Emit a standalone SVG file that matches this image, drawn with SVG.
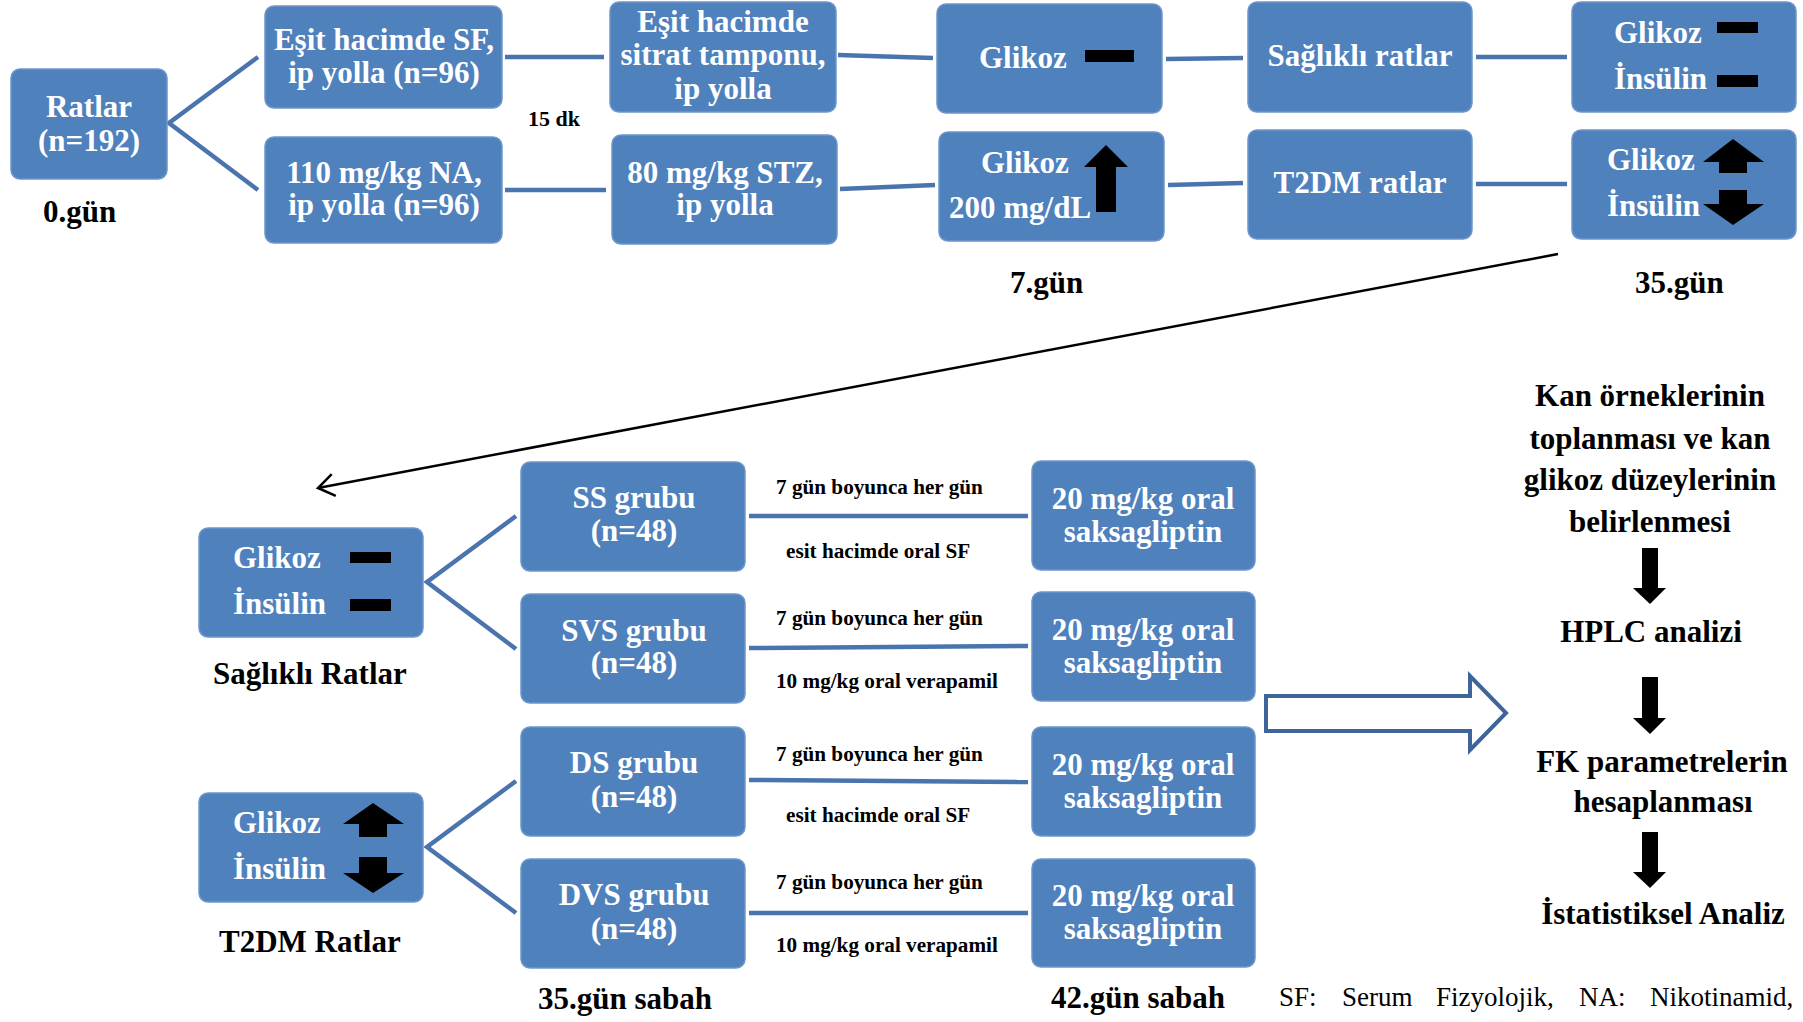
<svg xmlns="http://www.w3.org/2000/svg" width="1803" height="1022" viewBox="0 0 1803 1022">
<style>
.box{fill:#4f81bd;stroke:#6d96cc;stroke-width:1.5}
.bt{font-family:"Liberation Serif","Times New Roman",serif;font-weight:bold;font-size:31px;fill:#ffffff;text-anchor:middle}
.bts{font-family:"Liberation Serif","Times New Roman",serif;font-weight:bold;font-size:31px;fill:#ffffff}
.lab{font-family:"Liberation Serif","Times New Roman",serif;font-weight:bold;font-size:31px;fill:#000000}
.sm{font-family:"Liberation Serif","Times New Roman",serif;font-weight:bold;font-size:21.2px;fill:#000000}
.note{font-family:"Liberation Serif","Times New Roman",serif;font-size:27px;fill:#000000}
.ln{stroke:#4a74ad;stroke-width:4.5;fill:none}
.blk{fill:#000000}
</style>
<defs>
<marker id="openarrow" viewBox="-20 -14 24 28" markerWidth="24" markerHeight="28" refX="0" refY="0" orient="auto" markerUnits="userSpaceOnUse">
<path d="M -16 -11 L 0 0 L -16 11" fill="none" stroke="#000000" stroke-width="2.5"/>
</marker>
</defs>

<g id="connectors">
<polyline class="ln" points="258,57 169,123 258,190"/>
<line class="ln" x1="505" y1="57" x2="604" y2="57"/>
<line class="ln" x1="505" y1="190" x2="606" y2="190"/>
<line class="ln" x1="838" y1="55" x2="933" y2="58"/>
<line class="ln" x1="840" y1="189" x2="935" y2="185"/>
<line class="ln" x1="1166" y1="59" x2="1243" y2="58"/>
<line class="ln" x1="1168" y1="185" x2="1243" y2="183"/>
<line class="ln" x1="1476" y1="57" x2="1567" y2="57"/>
<line class="ln" x1="1476" y1="184" x2="1567" y2="184"/>
<line x1="1558" y1="254" x2="318" y2="488" stroke="#000000" stroke-width="2.5" marker-end="url(#openarrow)"/>
<polyline class="ln" points="516,516 427,582 516,649"/>
<polyline class="ln" points="516,781 427,847 516,913"/>
<line class="ln" x1="749" y1="516" x2="1028" y2="516"/>
<line class="ln" x1="749" y1="648" x2="1028" y2="646"/>
<line class="ln" x1="749" y1="780" x2="1028" y2="782"/>
<line class="ln" x1="749" y1="913" x2="1028" y2="913"/>
<polygon points="1266,696 1470,696 1470,676 1506,713 1470,750 1470,731 1266,731" fill="#ffffff" stroke="#3f649a" stroke-width="4"/>
<polygon class="blk" points="1642,548 1658,548 1658,588 1666,588 1650,604 1633,588 1642,588"/>
<polygon class="blk" points="1642,677 1658,677 1658,718 1666,718 1650,734 1633,718 1642,718"/>
<polygon class="blk" points="1642,832 1658,832 1658,872 1666,872 1650,888 1633,872 1642,872"/>
</g>

<g id="n-ratlar">
<rect class="box" x="11" y="69" width="156" height="110" rx="9"/>
<text class="bt" x="89" y="117">Ratlar</text>
<text class="bt" x="89" y="151">(n=192)</text>
</g>
<text id="t-0gun" class="lab" x="43" y="222">0.gün</text>

<g id="n-sf">
<rect class="box" x="265" y="6" width="237" height="102" rx="9"/>
<text class="bt" x="384" y="50">Eşit hacimde SF,</text>
<text class="bt" x="384" y="83">ip yolla (n=96)</text>
</g>
<g id="n-na">
<rect class="box" x="265" y="137" width="237" height="106" rx="9"/>
<text class="bt" x="384" y="183">110 mg/kg NA,</text>
<text class="bt" x="384" y="215">ip yolla (n=96)</text>
</g>
<text id="t-15dk" class="sm" x="528" y="126" style="font-size:22px">15 dk</text>

<g id="n-sitrat">
<rect class="box" x="610" y="2" width="226" height="110" rx="9"/>
<text class="bt" x="723" y="32">Eşit hacimde</text>
<text class="bt" x="723" y="65">sitrat tamponu,</text>
<text class="bt" x="723" y="99">ip yolla</text>
</g>
<g id="n-stz">
<rect class="box" x="612" y="135" width="225" height="109" rx="9"/>
<text class="bt" x="725" y="183">80 mg/kg STZ,</text>
<text class="bt" x="725" y="215">ip yolla</text>
</g>

<g id="n-glikoz7a">
<rect class="box" x="937" y="4" width="225" height="109" rx="9"/>
<text class="bts" x="979" y="68">Glikoz</text>
<rect class="blk" x="1085" y="50" width="49" height="12"/>
</g>
<g id="n-glikoz7b">
<rect class="box" x="939" y="132" width="225" height="109" rx="9"/>
<text class="bts" x="981" y="173">Glikoz</text>
<text class="bts" x="949" y="218">200 mg/dL</text>
<polygon class="blk" points="1106,145 1128,167 1116,167 1116,212 1096,212 1096,167 1084,167"/>
</g>
<text id="t-7gun" class="lab" x="1010" y="293">7.gün</text>

<g id="n-saglikli">
<rect class="box" x="1248" y="2" width="224" height="110" rx="9"/>
<text class="bt" x="1360" y="66">Sağlıklı ratlar</text>
</g>
<g id="n-t2dm">
<rect class="box" x="1248" y="130" width="224" height="109" rx="9"/>
<text class="bt" x="1360" y="193">T2DM ratlar</text>
</g>

<g id="n-35a">
<rect class="box" x="1572" y="2" width="224" height="110" rx="9"/>
<text class="bts" x="1614" y="43">Glikoz</text>
<rect class="blk" x="1717" y="22" width="41" height="11"/>
<text class="bts" x="1614" y="89">İnsülin</text>
<rect class="blk" x="1717" y="75" width="41" height="12"/>
</g>
<g id="n-35b">
<rect class="box" x="1572" y="130" width="224" height="109" rx="9"/>
<text class="bts" x="1607" y="170">Glikoz</text>
<polygon class="blk" points="1733,139 1764,162 1747,162 1747,173 1719,173 1719,162 1703,162"/>
<text class="bts" x="1607" y="216">İnsülin</text>
<polygon class="blk" points="1719,190 1747,190 1747,204 1764,204 1733,225 1703,204 1719,204"/>
</g>
<text id="t-35gun" class="lab" x="1635" y="293">35.gün</text>

<g id="n-sag-bottom">
<rect class="box" x="199" y="528" width="224" height="109" rx="9"/>
<text class="bts" x="233" y="568">Glikoz</text>
<rect class="blk" x="350" y="552" width="41" height="11"/>
<text class="bts" x="233" y="614">İnsülin</text>
<rect class="blk" x="350" y="599" width="41" height="12"/>
</g>
<text id="t-sagratlar" class="lab" x="213" y="684">Sağlıklı Ratlar</text>

<g id="n-t2dm-bottom">
<rect class="box" x="199" y="793" width="224" height="109" rx="9"/>
<text class="bts" x="233" y="833">Glikoz</text>
<polygon class="blk" points="373,803 404,824 387,824 387,837 359,837 359,824 343,824"/>
<text class="bts" x="233" y="879">İnsülin</text>
<polygon class="blk" points="359,857 387,857 387,873 404,873 373,893 343,873 359,873"/>
</g>
<text id="t-t2dmratlar" class="lab" x="219" y="952">T2DM Ratlar</text>

<g id="n-ss">
<rect class="box" x="521" y="462" width="224" height="109" rx="9"/>
<text class="bt" x="634" y="508">SS grubu</text>
<text class="bt" x="634" y="541">(n=48)</text>
</g>
<g id="n-svs">
<rect class="box" x="521" y="594" width="224" height="109" rx="9"/>
<text class="bt" x="634" y="641">SVS grubu</text>
<text class="bt" x="634" y="673">(n=48)</text>
</g>
<g id="n-ds">
<rect class="box" x="521" y="727" width="224" height="109" rx="9"/>
<text class="bt" x="634" y="773">DS grubu</text>
<text class="bt" x="634" y="807">(n=48)</text>
</g>
<g id="n-dvs">
<rect class="box" x="521" y="859" width="224" height="109" rx="9"/>
<text class="bt" x="634" y="905">DVS grubu</text>
<text class="bt" x="634" y="939">(n=48)</text>
</g>
<text id="t-35sabah" class="lab" x="538" y="1009">35.gün sabah</text>

<g id="labels-small">
<text class="sm" x="776" y="494">7 gün boyunca her gün</text>
<text class="sm" x="786" y="558">esit hacimde oral SF</text>
<text class="sm" x="776" y="625">7 gün boyunca her gün</text>
<text class="sm" x="776" y="688">10 mg/kg oral verapamil</text>
<text class="sm" x="776" y="761">7 gün boyunca her gün</text>
<text class="sm" x="786" y="822">esit hacimde oral SF</text>
<text class="sm" x="776" y="889">7 gün boyunca her gün</text>
<text class="sm" x="776" y="952">10 mg/kg oral verapamil</text>
</g>

<g id="n-sak1">
<rect class="box" x="1032" y="461" width="223" height="109" rx="9"/>
<text class="bt" x="1143" y="509">20 mg/kg oral</text>
<text class="bt" x="1143" y="542">saksagliptin</text>
</g>
<g id="n-sak2">
<rect class="box" x="1032" y="592" width="223" height="109" rx="9"/>
<text class="bt" x="1143" y="640">20 mg/kg oral</text>
<text class="bt" x="1143" y="673">saksagliptin</text>
</g>
<g id="n-sak3">
<rect class="box" x="1032" y="727" width="223" height="109" rx="9"/>
<text class="bt" x="1143" y="775">20 mg/kg oral</text>
<text class="bt" x="1143" y="808">saksagliptin</text>
</g>
<g id="n-sak4">
<rect class="box" x="1032" y="859" width="223" height="108" rx="9"/>
<text class="bt" x="1143" y="906">20 mg/kg oral</text>
<text class="bt" x="1143" y="939">saksagliptin</text>
</g>
<text id="t-42sabah" class="lab" x="1051" y="1008">42.gün sabah</text>

<g id="n-kan">
<text class="lab" x="1650" y="406" text-anchor="middle">Kan örneklerinin</text>
<text class="lab" x="1650" y="449" text-anchor="middle">toplanması ve kan</text>
<text class="lab" x="1650" y="490" text-anchor="middle">glikoz düzeylerinin</text>
<text class="lab" x="1650" y="532" text-anchor="middle">belirlenmesi</text>
</g>
<g id="n-hplc">
<text class="lab" x="1651" y="642" text-anchor="middle">HPLC analizi</text>
</g>
<g id="n-fk">
<text class="lab" x="1662" y="772" text-anchor="middle">FK parametrelerin</text>
<text class="lab" x="1663" y="812" text-anchor="middle">hesaplanması</text>
</g>
<g id="n-ist">
<text class="lab" x="1663" y="924" text-anchor="middle">İstatistiksel Analiz</text>
</g>

<text id="t-note" class="note" y="1006"><tspan x="1279">SF:</tspan> <tspan x="1342">Serum</tspan> <tspan x="1436">Fizyolojik,</tspan> <tspan x="1579">NA:</tspan> <tspan x="1650">Nikotinamid,</tspan></text>
</svg>
